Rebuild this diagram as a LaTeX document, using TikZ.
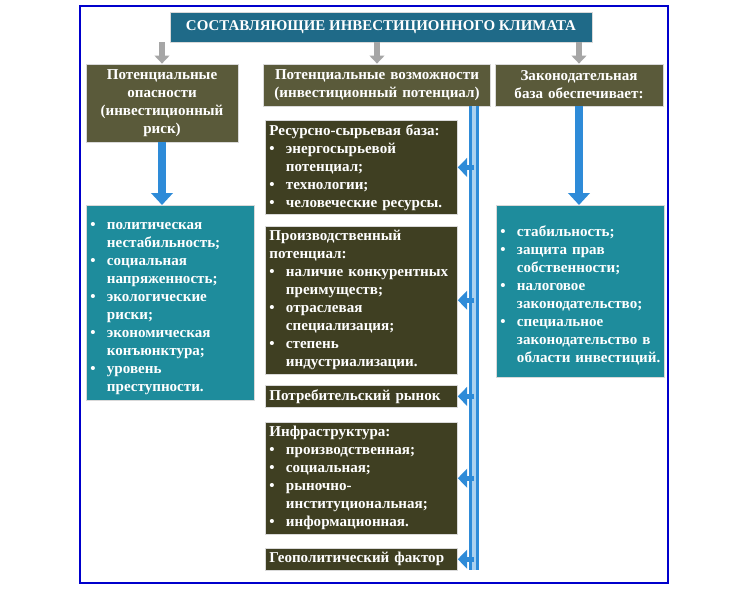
\documentclass[tikz,border=0pt]{standalone}
\usepackage{fontspec}
\setmainfont{Liberation Serif}
\usetikzlibrary{arrows.meta}
\definecolor{olive}{HTML}{5A5A3A}
\definecolor{dolive}{HTML}{3F3F22}
\definecolor{teal2}{HTML}{1E8C9C}
\definecolor{ttl}{HTML}{1F6A88}
\definecolor{barblue}{HTML}{2E8BD8}
\newcommand{\bitem}[1]{\par\hangindent=1.1em\hangafter=1\noindent\makebox[1.1em][l]{\textbullet}#1\par}
\tikzset{
 bx/.style={draw=white!70!gray,line width=0.6pt,text=white,font=\bfseries\fontsize{11.3}{13.5}\selectfont,inner sep=3pt},
 hdr/.style={bx,fill=olive,align=center},
 mid/.style={bx,fill=dolive,align=left,anchor=north west,text width=#1},
 tl/.style={bx,fill=teal2,align=left,anchor=north west,text width=#1},
 garr/.style={-{Triangle[length=6pt,width=11pt]},line width=5pt,draw=gray!70},
 barr/.style={-{Triangle[length=9pt,width=16pt]},line width=6pt,draw=barblue},
 larr/.style={-{Triangle[length=7pt,width=14pt]},line width=4pt,draw=barblue},
}
\begin{document}
\begin{tikzpicture}[x=0.75pt,y=-0.75pt]
\useasboundingbox (0,0) rectangle (750,590);
\fill[white] (0,0) rectangle (750,590);
\draw[line width=2.2pt,draw=blue!80!black] (80,6) rectangle (668,583);
\node[bx,fill=ttl,minimum width=422*0.75pt,minimum height=30*0.75pt,font=\bfseries\fontsize{11.2}{13}\selectfont] (title) at (381,27) {СОСТАВЛЯЮЩИЕ ИНВЕСТИЦИОННОГО КЛИМАТА};
\node[hdr,minimum width=152*0.75pt,minimum height=78*0.75pt,text width=144*0.75pt] (h1) at (162,103) {Потенциальные опасности (инвестиционный риск)};
\node[hdr,minimum width=225*0.75pt,minimum height=42*0.75pt,text width=219*0.75pt] (h2) at (377,85) {Потенциальные возможности (инвестиционный потенциал)};
\node[hdr,minimum width=166*0.75pt,minimum height=42*0.75pt,text width=160*0.75pt] (h3) at (579,85) {Законодательная база обеспечивает:};
\draw[garr] (title.south -| h1) -- (h1.north);
\draw[garr] (title.south -| h2) -- (h2.north);
\draw[garr] (title.south -| h3) -- (h3.north);
\node[tl=160*0.75pt,minimum height=195*0.75pt] (t1) at (86,205) {\bitem{политическая нестабильность;}\bitem{социальная напряженность;}\bitem{экологические риски;}\bitem{экономическая конъюнктура;}\bitem{уровень преступности.}};
\node[tl=160*0.75pt,minimum height=172*0.75pt] (t3) at (496,205) {\bitem{стабильность;}\bitem{защита прав собственности;}\bitem{налоговое законодательство;}\bitem{специальное законодательство в области инвестиций.}};
\draw[barr] (h1.south) -- (h1.south |- t1.north);
\draw[barr] (h3.south) -- (h3.south |- t3.north);
\node[mid=184*0.75pt] (m1) at (265,120) {Ресурсно-сырьевая база:\bitem{энергосырьевой потенциал;}\bitem{технологии;}\bitem{человеческие ресурсы.}};
\node[mid=184*0.75pt] (m2) at (265,226) {Производственный потенциал:\bitem{наличие конкурентных преимуществ;}\bitem{отраслевая специализация;}\bitem{степень индустриализации.}};
\node[mid=184*0.75pt] (m3) at (265,385) {Потребительский рынок};
\node[mid=184*0.75pt] (m4) at (265,422) {Инфраструктура:\bitem{производственная;}\bitem{социальная;}\bitem{рыночно-институциональная;}\bitem{информационная.}};
\node[mid=184*0.75pt] (m5) at (265,548) {Геополитический фактор};
\coordinate (bt) at (474,106);
\coordinate (bb) at (474,570);
\draw[line width=8pt,draw=barblue] (bt) -- (bb);
\draw[line width=3pt,draw=white!60!barblue] (bt) -- (bb);
\foreach \m in {m1,m2,m3,m4,m5}
  \draw[larr] (bt |- \m.east) -- (\m.east);
\end{tikzpicture}
\end{document}
